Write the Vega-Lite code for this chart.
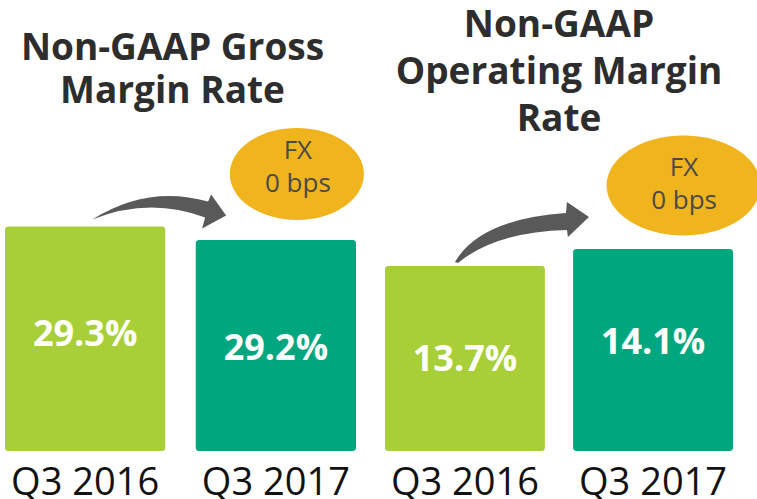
{
  "$schema": "https://vega.github.io/schema/vega-lite/v6.json",
  "background": "white",
  "padding": {"left": 5, "top": 6, "right": 0, "bottom": 0},
  "autosize": {"type": "pad"},
  "bounds": "flush",
  "config": {"view": {"stroke": null}, "font": "Open Sans"},
  "spacing": 29,
  "datasets": {
    "gross": [
      {"period": "Q3 2016", "value": 29.3, "label": "29.3%"},
      {"period": "Q3 2017", "value": 29.2, "label": "29.2%"}
    ],
    "operating": [
      {"period": "Q3 2016", "value": 13.7, "label": "13.7%"},
      {"period": "Q3 2017", "value": 14.1, "label": "14.1%"}
    ]
  },
  "hconcat": [
    {
      "width": 351,
      "height": 307,
      "title": {"text": ["Non-GAAP Gross", "Margin Rate"], "fontSize": 37, "fontWeight": "bold", "color": "#2d2d2d", "lineHeight": 43, "offset": 17, "dx": -8, "anchor": "middle", "font": "Open Sans"},
      "data": {"name": "gross"},
      "encoding": {
        "x": {"field": "period", "type": "nominal", "sort": null,
              "scale": {"paddingInner": 0.16, "paddingOuter": 0},
              "axis": {"title": null, "domain": false, "ticks": false, "tickSize": 0, "labelPadding": 13, "labelFontSize": 38, "labelColor": "#111111", "labelFont": "Open Sans", "labelAngle": 0}},
        "y": {"field": "value", "type": "quantitative", "scale": {"domain": [27.64, 29.91], "zero": false, "nice": false}, "axis": null}
      },
      "layer": [
        {"mark": {"type": "bar", "cornerRadius": 3},
         "encoding": {"y2": {"datum": 27.64},
                      "color": {"field": "period", "type": "nominal", "scale": {"domain": ["Q3 2016", "Q3 2017"], "range": ["#a8cf38", "#00a67d"]}, "legend": null}}},
        {"mark": {"type": "text", "color": "white", "fontSize": 36, "fontWeight": "bold", "baseline": "middle", "dy": 109, "font": "Open Sans"},
         "encoding": {"text": {"field": "label"}}},
        {"transform": [{"filter": "datum.period === 'Q3 2017'"}],
         "mark": {"type": "point", "shape": "M 0.88 -0.66 C 0.88 -0.406 0.58 -0.2 0.21 -0.2 C -0.16 -0.2 -0.46 -0.406 -0.46 -0.66 C -0.46 -0.914 -0.16 -1.12 0.21 -1.12 C 0.58 -1.12 0.88 -0.914 0.88 -0.66 Z", "filled": true, "color": "#f0b41e", "opacity": 1, "size": 40000, "strokeWidth": 0}},
        {"transform": [{"filter": "datum.period === 'Q3 2017'"}],
         "mark": {"type": "text", "text": ["FX", "0 bps"], "fontSize": 26, "color": "#4a4a4a", "lineHeight": 33, "baseline": "middle", "dx": 22, "dy": -89, "font": "Open Sans"}},
        {"transform": [{"filter": "datum.period === 'Q3 2016'"}],
         "mark": {"type": "point", "shape": "M 0.07 -0.07 Q 0.63 -0.42 1.23 -0.25 L 1.26 -0.32 L 1.41 -0.11 L 1.17 0.02 L 1.2 -0.09 Q 0.645 -0.3 0.07 -0.07 Z", "filled": true, "color": "#595959", "opacity": 1, "size": 40000, "strokeWidth": 0}}
      ]
    },
    {
      "width": 348,
      "height": 307,
      "title": {"text": ["Non-GAAP", "Operating Margin", "Rate"], "fontSize": 37, "fontWeight": "bold", "color": "#2d2d2d", "lineHeight": 47, "offset": -3, "anchor": "middle", "font": "Open Sans"},
      "data": {"name": "operating"},
      "encoding": {
        "x": {"field": "period", "type": "nominal", "sort": null,
              "scale": {"paddingInner": 0.15, "paddingOuter": 0},
              "axis": {"title": null, "domain": false, "ticks": false, "tickSize": 0, "labelPadding": 13, "labelFontSize": 38, "labelColor": "#111111", "labelFont": "Open Sans", "labelAngle": 0}},
        "y": {"field": "value", "type": "quantitative", "scale": {"domain": [9.35, 16.57], "zero": false, "nice": false}, "axis": null}
      },
      "layer": [
        {"mark": {"type": "bar", "cornerRadius": 3},
         "encoding": {"y2": {"datum": 9.35},
                      "color": {"field": "period", "type": "nominal", "scale": {"domain": ["Q3 2016", "Q3 2017"], "range": ["#a8cf38", "#00a67d"]}, "legend": null}}},
        {"mark": {"type": "text", "color": "white", "fontSize": 36, "fontWeight": "bold", "baseline": "middle", "dy": 94, "font": "Open Sans"},
         "encoding": {"text": {"field": "label"}}},
        {"transform": [{"filter": "datum.period === 'Q3 2017'"}],
         "mark": {"type": "point", "shape": "M 1.075 -0.635 C 1.075 -0.359 0.73 -0.135 0.305 -0.135 C -0.12 -0.135 -0.465 -0.359 -0.465 -0.635 C -0.465 -0.911 -0.12 -1.135 0.305 -1.135 C 0.73 -1.135 1.075 -0.911 1.075 -0.635 Z", "filled": true, "color": "#f0b41e", "opacity": 1, "size": 40000, "strokeWidth": 0}},
        {"transform": [{"filter": "datum.period === 'Q3 2017'"}],
         "mark": {"type": "text", "text": ["FX", "0 bps"], "fontSize": 26, "color": "#4a4a4a", "lineHeight": 33, "baseline": "middle", "dx": 31, "dy": -81, "font": "Open Sans"}},
        {"transform": [{"filter": "datum.period === 'Q3 2016'"}],
         "mark": {"type": "point", "shape": "M -0.1 -0.04 Q 0.15 -0.47 1.01 -0.53 L 1.02 -0.64 L 1.24 -0.49 L 1.03 -0.29 L 1.02 -0.36 Q 0.3 -0.34 -0.07 -0.03 Z", "filled": true, "color": "#595959", "opacity": 1, "size": 40000, "strokeWidth": 0}}
      ]
    }
  ]
}
